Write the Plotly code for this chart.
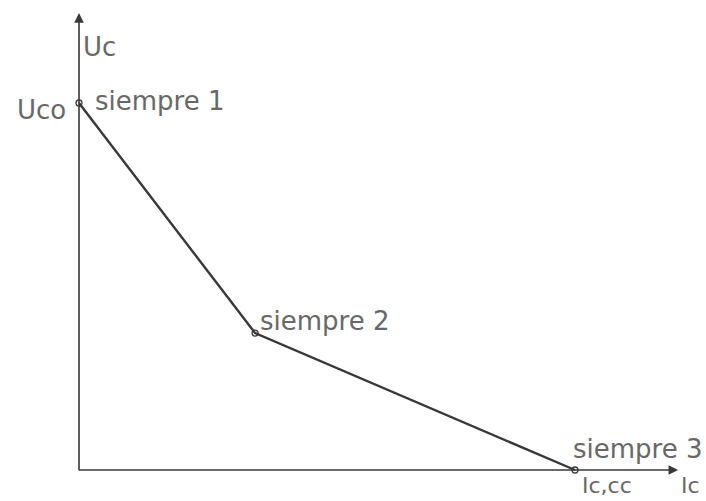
import plotly.graph_objects as go

# Characteristic curve Uc(Ic): three operating points, normalised units
point_labels = ["siempre 1", "siempre 2", "siempre 3"]
ic_values = [0.0, 0.355, 1.0]
uc_values = [1.0, 0.373, 0.0]

axis_x_label = "Ic"
axis_y_label = "Uc"
uc0_label = "Uco"
icc_label = "Ic,cc"

W, H = 706, 501
px_per_x = 496.0
px_per_y = 367.0
x0_px, y0_px = 79.0, 470.0

x_range = [-x0_px / px_per_x, (W - x0_px) / px_per_x]
y_range = [-(H - y0_px) / px_per_y, y0_px / px_per_y]

font = dict(family="DejaVu Sans", size=26, color="#686868")
font_bottom = dict(family="DejaVu Sans", size=22, color="#686868")
ink = "#383838"

fig = go.Figure()
fig.add_trace(go.Scatter(
    x=ic_values, y=uc_values, mode="lines+markers",
    line=dict(color=ink, width=2.4),
    marker=dict(symbol="circle-open", size=6, color=ink, line=dict(width=1.3)),
    hoverinfo="skip", showlegend=False,
))

ann = []
# axes with arrowheads
ann.append(dict(x=0, y=1.245, ax=0, ay=-0.005, xref="x", yref="y", axref="x", ayref="y",
                showarrow=True, arrowhead=2, arrowsize=1.2, arrowwidth=1.6, arrowcolor=ink, text=""))
ann.append(dict(x=1.208, y=0, ax=-0.003, ay=0, xref="x", yref="y", axref="x", ayref="y",
                showarrow=True, arrowhead=2, arrowsize=1.2, arrowwidth=1.6, arrowcolor=ink, text=""))

shifts = [(14, 2), (3, 12), (-4, 21)]
for lbl, xv, yv, (dx, dy) in zip(point_labels, ic_values, uc_values, shifts):
    ann.append(dict(x=xv, y=yv, text=lbl, showarrow=False, xanchor="left", yanchor="middle",
                    xshift=dx, yshift=dy, font=font))

ann.append(dict(x=0, y=1.153, text=axis_y_label, showarrow=False, xanchor="left",
                yanchor="middle", xshift=2, font=font))
ann.append(dict(x=0, y=uc_values[0], text=uc0_label, showarrow=False, xanchor="right",
                yanchor="middle", xshift=-11, yshift=-7, font=font))
ann.append(dict(x=ic_values[2], y=0, text=icc_label, showarrow=False, xanchor="left",
                yanchor="middle", xshift=5, yshift=-15, font=font_bottom))
ann.append(dict(x=(679 - x0_px) / px_per_x, y=0, text=axis_x_label, showarrow=False,
                xanchor="left", yanchor="middle", yshift=-15, font=font_bottom))

fig.update_layout(
    width=W, height=H, margin=dict(l=0, r=0, t=0, b=0),
    paper_bgcolor="white", plot_bgcolor="white",
    xaxis=dict(range=x_range, visible=False, fixedrange=True),
    yaxis=dict(range=y_range, visible=False, fixedrange=True),
    annotations=ann,
)

fig.write_html("out.html")
